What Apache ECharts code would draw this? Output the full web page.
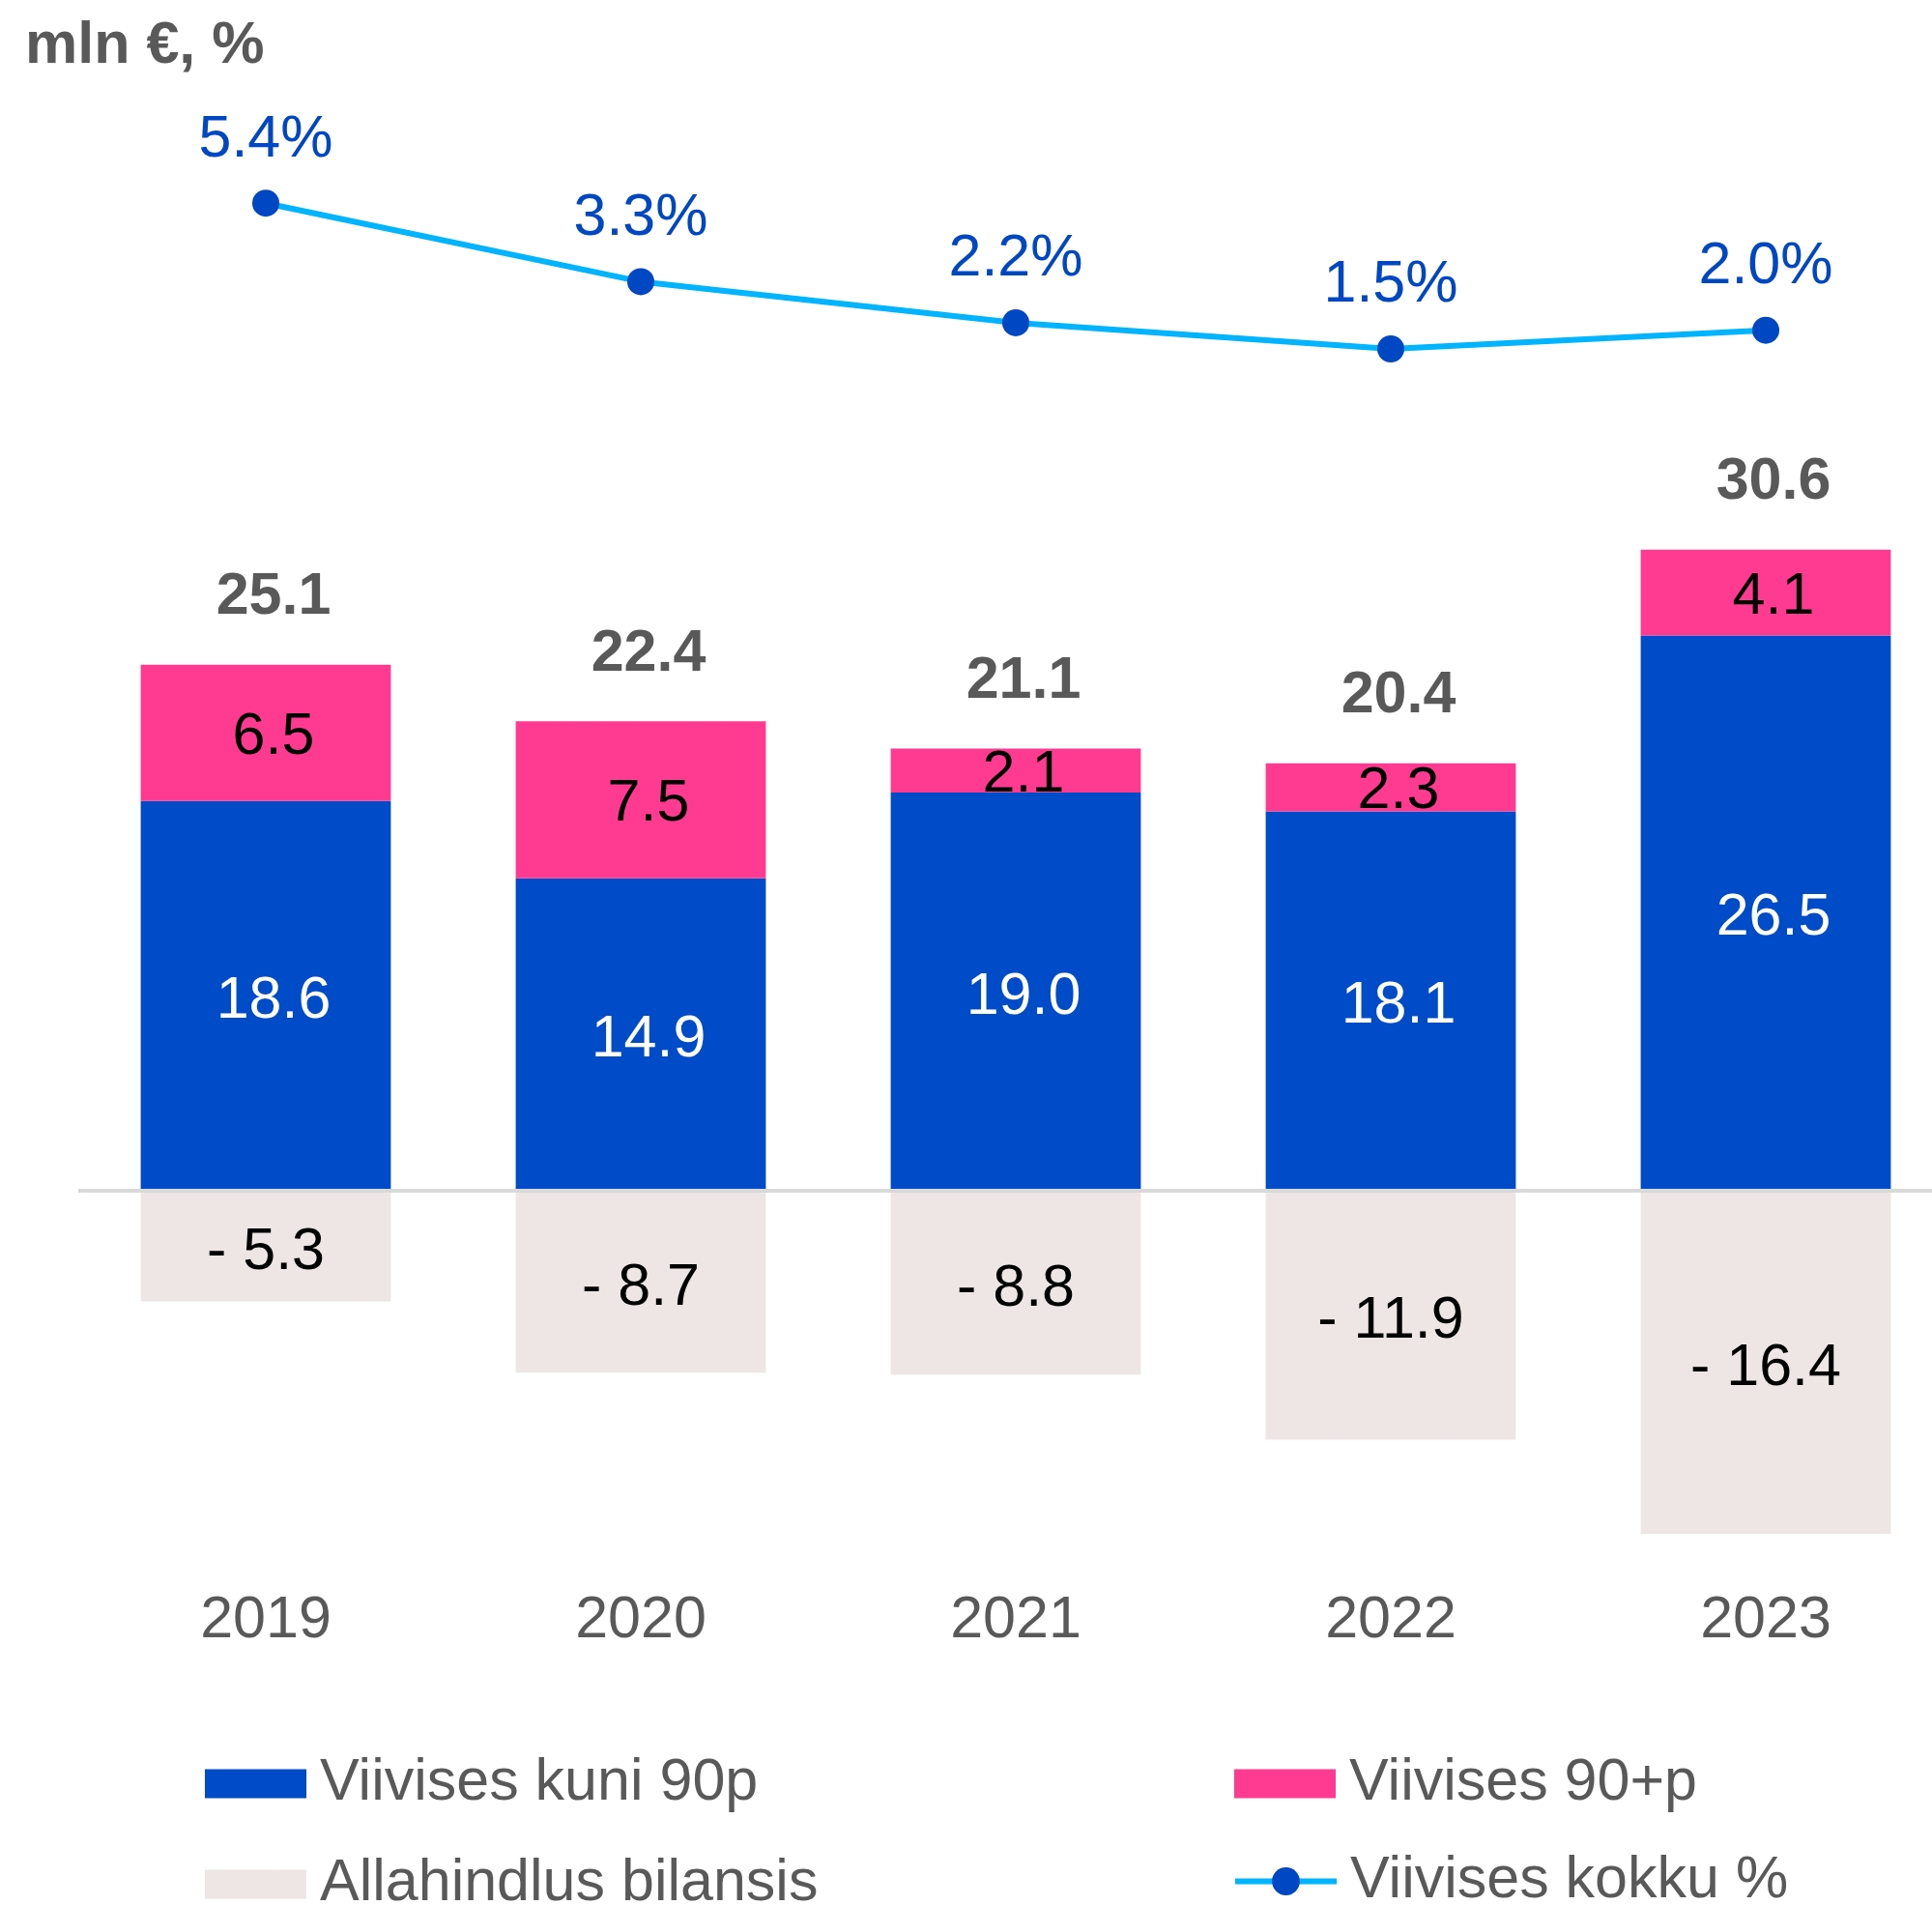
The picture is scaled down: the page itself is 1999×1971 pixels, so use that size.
<!DOCTYPE html>
<html>
<head>
<meta charset="utf-8">
<script src="https://cdn.jsdelivr.net/npm/echarts@6/dist/echarts.min.js"></script>
<style>
  html, body { margin: 0; padding: 0; background: #fff; }
  #chart { width: 1999px; height: 1971px; }
</style>
</head>
<body>
<div id="chart"></div>
<script>
// values
var years = ['2019', '2020', '2021', '2022', '2023'];
var upTo90 = [18.6, 14.9, 19.0, 18.1, 26.5];
var over90 = [6.5, 7.5, 2.1, 2.3, 4.1];
var allowance = [-5.3, -8.7, -8.8, -11.9, -16.4];
var totals = [25.1, 22.4, 21.1, 20.4, 30.6];
var overduePct = [5.4, 3.3, 2.2, 1.5, 2.0];

var FONT = 'Liberation Sans, Arial, sans-serif';
var GREY = '#595959';
var FS = 61;

function legendAt(name, left, top) {
  return {
    data: [name],
    left: left,
    top: top,
    itemWidth: 105,
    itemHeight: 30,
    selectedMode: false,
    textStyle: { fontFamily: FONT, fontSize: FS, color: GREY, padding: [0, 0, 0, 9] }
  };
}

var chart = echarts.init(document.getElementById('chart'));
chart.setOption({
  animation: false,
  title: {
    text: 'mln €, %',
    left: 21,
    top: 13,
    textStyle: { fontFamily: FONT, fontSize: 61, fontWeight: 'bold', color: GREY }
  },
  legend: [
    Object.assign(legendAt('Viivises kuni 90p', 207, 1810), { icon: 'rect' }),
    Object.assign(legendAt('Viivises 90+p', 1272, 1810), { icon: 'rect' }),
    Object.assign(legendAt('Allahindlus bilansis', 207, 1914), { icon: 'rect' }),
    Object.assign(legendAt('Viivises kokku %', 1270, 1911), {
      itemHeight: 36,
      lineStyle: { width: 6 }
    })
  ],
  // the plot runs a little past the right edge of the picture
  grid: [
    { left: 81, width: 1940, top: 365, bottom: 371, outerBoundsMode: 'none' },
    { left: 81, width: 1940, top: 187, height: 232, outerBoundsMode: 'none' }
  ],
  xAxis: [
    {
      type: 'category', gridIndex: 0, data: years,
      axisLine: { show: false, onZero: false },
      axisTick: { show: false },
      axisLabel: { fontFamily: FONT, fontSize: FS, color: GREY, margin: 47 }
    },
    {
      type: 'category', gridIndex: 1, data: years, show: false
    }
  ],
  yAxis: [
    { type: 'value', gridIndex: 0, min: -17, max: 40, show: false, splitLine: { show: false } },
    { type: 'value', gridIndex: 1, min: 0, max: 6, show: false, splitLine: { show: false } }
  ],
  series: [
    {
      name: 'Viivises kuni 90p', type: 'bar', stack: 'a', barWidth: '66.7%',
      data: upTo90,
      itemStyle: { color: '#004BC7' },
      label: {
        show: true, position: 'inside', offset: [8, 6],
        fontFamily: FONT, fontSize: FS, color: '#ffffff',
        formatter: function (p) { return p.value.toFixed(1); }
      }
    },
    {
      name: 'Viivises 90+p', type: 'bar', stack: 'a',
      data: over90,
      itemStyle: { color: '#FF3A90' },
      label: {
        show: true, position: 'inside', offset: [8, 5],
        fontFamily: FONT, fontSize: FS, color: '#000000',
        formatter: function (p) { return p.value.toFixed(1); }
      }
    },
    {
      name: 'Allahindlus bilansis', type: 'bar', stack: 'a',
      data: allowance,
      itemStyle: { color: '#EDE6E4' },
      label: {
        show: true, position: 'inside', offset: [0, 7],
        fontFamily: FONT, fontSize: FS, color: '#000000',
        formatter: function (p) { return '- ' + Math.abs(p.value).toFixed(1); }
      },
      markLine: {
        silent: true,
        symbol: ['none', 'none'],
        label: { show: false },
        lineStyle: { color: '#D9D9D9', width: 4, type: 'solid' },
        data: [{ yAxis: 0 }]
      }
    },
    {
      name: 'total', type: 'scatter', symbolSize: 0,
      data: totals,
      itemStyle: { opacity: 1 },
      label: {
        show: true, position: 'top', distance: 39, offset: [8, 0],
        fontFamily: FONT, fontSize: FS, fontWeight: 'bold', color: GREY,
        formatter: function (p) { return p.value.toFixed(1); }
      },
      z: 5
    },
    {
      name: 'Viivises kokku %', type: 'line', xAxisIndex: 1, yAxisIndex: 1,
      data: overduePct,
      symbol: 'circle', symbolSize: 28,
      lineStyle: { color: '#00B4FF', width: 6 },
      itemStyle: { color: '#0047C4' },
      label: {
        show: true, position: 'top', distance: 21,
        fontFamily: FONT, fontSize: FS, color: '#0047C4',
        formatter: function (p) { return p.value.toFixed(1) + '%'; }
      }
    }
  ]
});
</script>
</body>
</html>
